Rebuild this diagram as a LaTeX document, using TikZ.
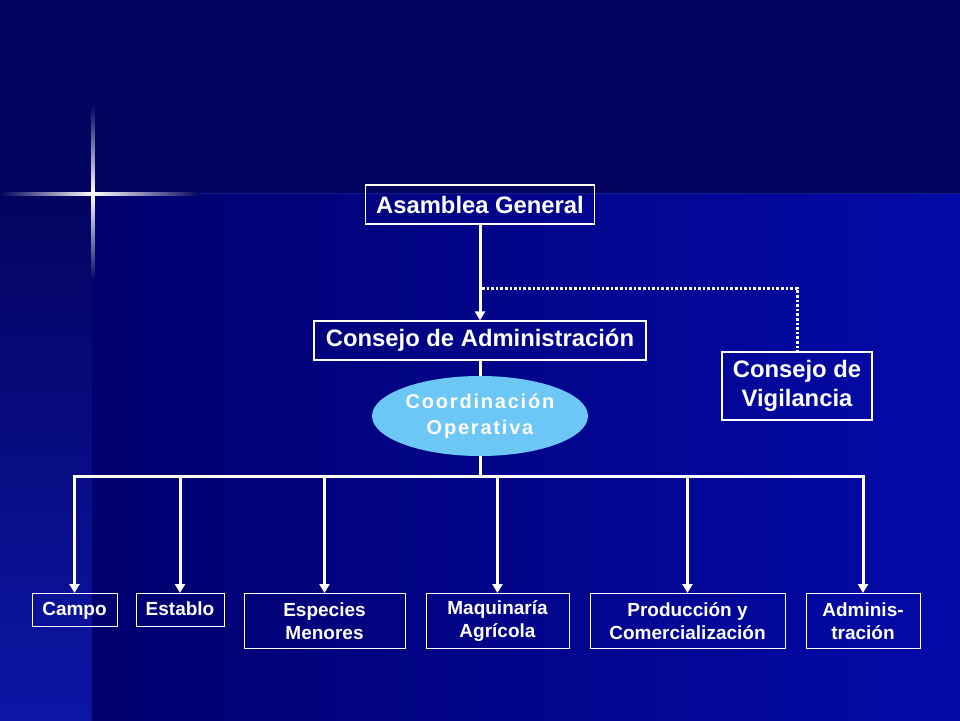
\documentclass[tikz,border=0pt]{standalone}
\usepackage{fontspec}
\setmainfont{Liberation Sans}
\usetikzlibrary{shapes.geometric,arrows.meta}
\definecolor{fondo}{RGB}{3,3,96}
\definecolor{fondomedio}{RGB}{0,0,110}
\definecolor{fondoclaro}{RGB}{4,10,168}
\definecolor{franja}{RGB}{12,22,165}
\definecolor{brillo}{RGB}{60,110,255}
\definecolor{elipse}{RGB}{108,198,246}
\begin{document}
\begin{tikzpicture}[x=1pt,y=-1pt,
 caja/.style={draw=white,line width=1.2pt,text=white,align=center,inner sep=0pt,font=\bfseries\fontsize{23.8}{29}\selectfont},
 cajita/.style={draw=white,line width=1pt,text=white,align=center,inner sep=0pt,anchor=north,minimum height=33pt,font=\bfseries\fontsize{19}{23}\selectfont},
 sola/.style={cajita,text height=14pt,text depth=4pt},
 linea/.style={white,line width=3pt},
 flecha/.style={linea,-{Triangle[length=9pt,width=10pt]}},
 punteado/.style={white,line width=3pt,dash pattern=on 2.6pt off 2pt}]
 \useasboundingbox (0,0) rectangle (960,720);
 \fill[fondo] (0,0) rectangle (960,194);
 \shade[top color=fondo,bottom color=franja] (0,194) rectangle (92,720);
 \shade[left color=fondomedio,right color=fondoclaro] (92,194) rectangle (960,720);
 \draw[brillo!25!fondo,line width=1pt] (185,193.5) -- (960,193.5);
 \shade[left color=fondo,middle color=brillo,right color=white] (0,192) rectangle (93,195);
 \shade[left color=white,middle color=brillo,right color=fondo] (93,192) rectangle (200,195);
 \shade[top color=fondo,middle color=brillo,bottom color=white] (91.5,105) rectangle (94.5,193.5);
 \shade[top color=white,middle color=brillo,bottom color=fondo] (91.5,193.5) rectangle (94.5,280);

 \node[caja,minimum width=229pt,minimum height=39pt] (asamblea) at (480,204.5) {Asamblea General};
 \node[caja,minimum width=332pt,minimum height=39pt] (consejo) at (480,340.5) {Consejo de Administración};
 \node[caja,minimum width=150pt,minimum height=68pt] (vigilancia) at (797,386) {Consejo de\\Vigilancia};
 \node[ellipse,fill=elipse,minimum width=216pt,minimum height=80pt,inner sep=0pt,text=white,align=center,
  font=\bfseries\fontsize{20}{26}\selectfont\addfontfeature{LetterSpace=9}] (coordinacion) at (480,416) {Coordinación\\Operativa};
 \coordinate (rama) at (482,288);
 \coordinate (bus) at (480,476);

 \node[sola,minimum width=85pt] (campo) at (74.5,593) {Campo};
 \node[sola,minimum width=88pt] (establo) at (180,593) {Establo};
 \node[cajita,minimum width=161pt,minimum height=55pt] (especies) at (324.5,593) {Especies\\Menores};
 \node[cajita,minimum width=143pt,minimum height=55pt] (maquinaria) at (497.5,593) {Maquinaría\\Agrícola};
 \node[cajita,minimum width=195pt,minimum height=55pt] (produccion) at (687.5,593) {Producción y\\Comercialización};
 \node[cajita,minimum width=114pt,minimum height=55pt] (admin) at (863,593) {Adminis-\\tración};

 \draw[flecha] (asamblea) -- (consejo);
 \draw[punteado] (rama) -| (vigilancia);
 \draw[linea] (consejo) -- (coordinacion);
 \draw[linea] (coordinacion) -- (bus);
 \draw[linea,line cap=rect] (campo.north |- bus) -- (admin.north |- bus);
 \foreach \n in {campo,establo,especies,maquinaria,produccion,admin}
  \draw[flecha] (\n.north |- bus) -- (\n.north);
\end{tikzpicture}
\end{document}
